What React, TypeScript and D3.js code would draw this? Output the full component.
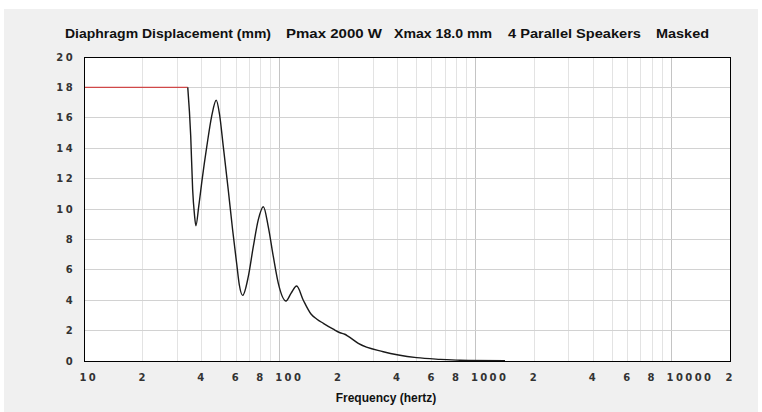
import * as d3 from 'd3';

// Displacement curve (Hz, mm)
const freq = [33.9, 35.1, 35.9, 36.7, 37.3, 38.6, 40.2, 42.4, 44.9, 47.4, 49.3, 51.5, 54.6, 57.5, 60.3, 62.2, 64.7, 69.1, 73.3, 77.7, 82.5, 87.4, 92.8, 98.4, 107.7, 114.2, 122.1, 132.0, 144.5, 155, 167.1, 187.9, 203.3, 215, 224.1, 252.2, 338.3, 501, 659, 834, 1417];
const disp = [18, 14.8, 11.3, 9.6, 8.9, 10.2, 12.0, 14.1, 16.1, 17.15, 16.2, 14.1, 11.25, 8.6, 6.4, 5.0, 4.32, 5.55, 7.52, 9.28, 10.15, 8.84, 6.86, 5.11, 3.95, 4.45, 4.93, 4.0, 3.09, 2.75, 2.48, 2.09, 1.86, 1.76, 1.62, 1.16, 0.61, 0.22, 0.11, 0.05, 0.02];

// Xmax limited region (drawn red)
const maskedFreq = [10, 33.9];
const maskedDisp = [18, 18];

const yTicks = [0, 2, 4, 6, 8, 10, 12, 14, 16, 18, 20];
const xTickValues = [10, 20, 40, 60, 80, 100, 200, 400, 600, 800, 1000, 2000, 4000, 6000, 8000, 10000, 20000];
const xTickLabels = ['10', '2', '4', '6', '8', '100', '2', '4', '6', '8', '1000', '2', '4', '6', '8', '10000', '2'];

const titleParts = ['Diaphragm Displacement (mm)', 'Pmax 2000 W', 'Xmax 18.0 mm', '4 Parallel Speakers', 'Masked'];
const titleX = [65, 286, 394, 508, 656];
const titleW = [206, 96, 98, 133, 53];

export default function App() {
  const W = 762, H = 412;
  const margin = { top: 57, right: 32, bottom: 51, left: 84 };
  const iw = W - margin.left - margin.right;
  const ih = H - margin.top - margin.bottom;

  const x = d3.scaleLog().domain([10, 20000]).range([0, iw]);
  const y = d3.scaleLinear().domain([0, 20]).range([ih, 0]);

  // every 1..9 multiple of each decade
  const grid: number[] = [];
  for (let d = 10; d < 20000; d *= 10) {
    for (let k = 1; k < 10; k++) {
      const v = d * k;
      if (v > 10 && v < 20000) grid.push(v);
    }
  }

  const line = d3.line<number>()
    .x((_, i) => x(freq[i]))
    .y(d => y(d))
    .curve(d3.curveMonotoneX);

  const maskLine = d3.line<number>()
    .x((_, i) => x(maskedFreq[i]))
    .y(d => y(d));

  const font = "'DejaVu Sans', sans-serif";

  return (
    <svg width={W} height={H} style={{ position: 'absolute', left: 0, top: 0 }}>
      <rect x={0} y={0} width={W} height={H} fill="#ffffff" />
      <rect x={4} y={9} width={W - 8} height={H - 9} fill="#f0f0f0" />

      {titleParts.map((t, i) => (
        <text key={t} x={titleX[i]} y={38} textLength={titleW[i]} lengthAdjust="spacingAndGlyphs"
          fontFamily="'Liberation Sans', Arial, sans-serif" fontWeight="bold" fontSize={12.5} fill="#111">
          {t}
        </text>
      ))}

      <g transform={`translate(${margin.left},${margin.top})`}>
        <rect x={0} y={0} width={iw} height={ih} fill="#ffffff" />

        {grid.map(v => {
          const decade = Math.abs(Math.log10(v) - Math.round(Math.log10(v))) < 1e-9;
          return (
            <line key={v} x1={x(v)} x2={x(v)} y1={0} y2={ih}
              stroke={decade ? '#c4c4c4' : '#e3e3e3'} strokeWidth={1} shapeRendering="crispEdges" />
          );
        })}

        {yTicks.slice(1, -1).map(v => (
          <line key={v} x1={0} x2={iw} y1={y(v)} y2={y(v)} stroke="#d2d2d2" strokeWidth={1} shapeRendering="crispEdges" />
        ))}

        <path d={maskLine(maskedDisp) ?? ''} fill="none" stroke="#d04848" strokeWidth={1.4} />
        <path d={line(disp) ?? ''} fill="none" stroke="#1a1a1a" strokeWidth={1.4} />

        <rect x={0} y={0} width={iw} height={ih} fill="none" stroke="#000" strokeWidth={1} shapeRendering="crispEdges" />

        {yTicks.map(v => (
          <text key={v} x={-9} y={y(v)} dy="0.36em" textAnchor="end" fontFamily={font} fontWeight="bold"
            fontSize={10} letterSpacing={2.4} fill="#333">
            {v}
          </text>
        ))}

        {xTickValues.map((v, i) => (
          <text key={v} x={x(v) - 4.5} y={ih + 20} fontFamily={font} fontWeight="bold"
            fontSize={10} letterSpacing={2.4} fill="#333">
            {xTickLabels[i]}
          </text>
        ))}
      </g>

      <text x={386} y={402} textAnchor="middle" fontFamily="'Liberation Sans', Arial, sans-serif"
        fontWeight="bold" fontSize={12} fill="#111">
        Frequency (hertz)
      </text>
    </svg>
  );
}
